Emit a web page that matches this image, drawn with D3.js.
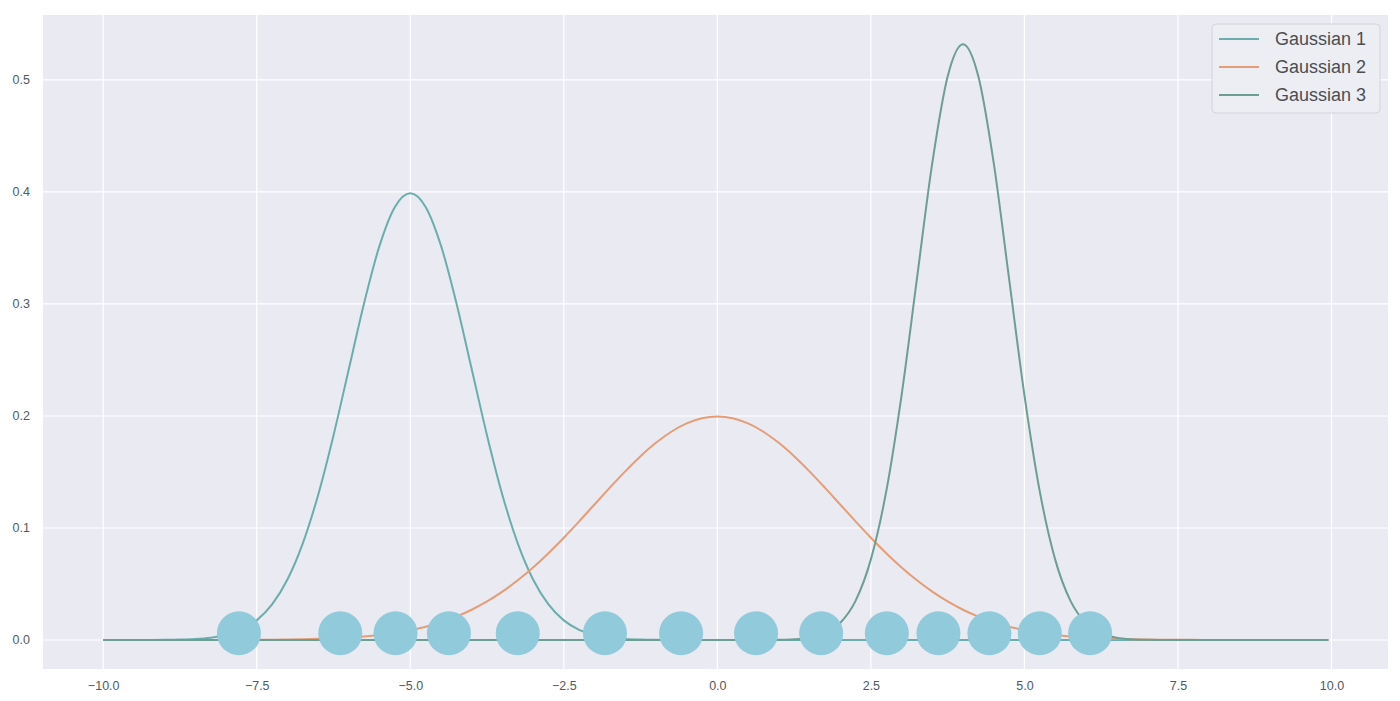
<!DOCTYPE html>
<html>
<head>
<meta charset="utf-8">
<script src="https://cdn.jsdelivr.net/npm/d3@7/dist/d3.min.js"></script>
<style>
  html, body { margin: 0; padding: 0; background: #ffffff; }
  svg { display: block; }
  text { font-family: "Liberation Sans", Arial, Helvetica, sans-serif; }
</style>
</head>
<body>
<svg id="chart" width="1400" height="701"></svg>
<script>
// ---------------- data ----------------
const seriesNames = ["Gaussian 1", "Gaussian 2", "Gaussian 3"];

const xValues = [
  -10, -9.75, -9.5, -9.25, -9, -8.75, -8.5, -8.25, -8, -7.75,
  -7.5, -7.25, -7, -6.75, -6.5, -6.25, -6, -5.75, -5.5, -5.25,
  -5, -4.75, -4.5, -4.25, -4, -3.75, -3.5, -3.25, -3, -2.75,
  -2.5, -2.25, -2, -1.75, -1.5, -1.25, -1, -0.75, -0.5, -0.25,
  0, 0.25, 0.5, 0.75, 1, 1.25, 1.5, 1.75, 2, 2.25,
  2.5, 2.75, 3, 3.25, 3.5, 3.75, 4, 4.25, 4.5, 4.75,
  5, 5.25, 5.5, 5.75, 6, 6.25, 6.5, 6.75, 7, 7.25,
  7.5, 7.75, 8, 8.25, 8.5, 8.75, 9, 9.25, 9.5, 9.75,
  9.95
];

const gaussian1 = [
  0, 0, 0.00002, 0.00005, 0.00013, 0.00035, 0.00087, 0.00203, 0.00443, 0.00909,
  0.01753, 0.03174, 0.05399, 0.08628, 0.12952, 0.18265, 0.24197, 0.30114, 0.35207, 0.38667,
  0.39894, 0.38667, 0.35207, 0.30114, 0.24197, 0.18265, 0.12952, 0.08628, 0.05399, 0.03174,
  0.01753, 0.00909, 0.00443, 0.00203, 0.00087, 0.00035, 0.00013, 0.00005, 0.00002, 0,
  0, 0, 0, 0, 0, 0, 0, 0, 0, 0,
  0, 0, 0, 0, 0, 0, 0, 0, 0, 0,
  0, 0, 0, 0, 0, 0, 0, 0, 0, 0,
  0, 0, 0, 0, 0, 0, 0, 0, 0, 0,
  0
];

const gaussian2 = [
  0, 0, 0, 0, 0, 0.00001, 0.00002, 0.00004, 0.00007, 0.00011,
  0.00018, 0.00028, 0.00044, 0.00067, 0.00101, 0.00151, 0.00222, 0.00320, 0.00455, 0.00636,
  0.00876, 0.01188, 0.01587, 0.02086, 0.02700, 0.03439, 0.04314, 0.05327, 0.06476, 0.07751,
  0.09132, 0.10594, 0.12099, 0.13603, 0.15057, 0.16408, 0.17603, 0.18593, 0.19333, 0.19792,
  0.19947, 0.19792, 0.19333, 0.18593, 0.17603, 0.16408, 0.15057, 0.13603, 0.12099, 0.10594,
  0.09132, 0.07751, 0.06476, 0.05327, 0.04314, 0.03439, 0.02700, 0.02086, 0.01587, 0.01188,
  0.00876, 0.00636, 0.00455, 0.00320, 0.00222, 0.00151, 0.00101, 0.00067, 0.00044, 0.00028,
  0.00018, 0.00011, 0.00007, 0.00004, 0.00002, 0.00001, 0, 0, 0, 0,
  0
];

const gaussian3 = [
  0, 0, 0, 0, 0, 0, 0, 0, 0, 0,
  0, 0, 0, 0, 0, 0, 0, 0, 0, 0,
  0, 0, 0, 0, 0, 0, 0, 0, 0, 0,
  0, 0, 0, 0, 0, 0, 0, 0, 0, 0,
  0, 0, 0.00001, 0.00004, 0.00018, 0.00064, 0.00206, 0.00591, 0.01520, 0.03495,
  0.07199, 0.13264, 0.21868, 0.32263, 0.42593, 0.50318, 0.53192, 0.50318, 0.42593, 0.32263,
  0.21868, 0.13264, 0.07199, 0.03495, 0.01520, 0.00591, 0.00206, 0.00064, 0.00018, 0.00004,
  0.00001, 0, 0, 0, 0, 0, 0, 0, 0, 0,
  0
];

const pointsX = [-7.79, -6.14, -5.24, -4.37, -3.25, -1.83, -0.59, 0.63, 1.69, 2.76, 3.60, 4.43, 5.25, 6.07];
const pointsY = [0.006, 0.006, 0.006, 0.006, 0.006, 0.006, 0.006, 0.006, 0.006, 0.006, 0.006, 0.006, 0.006, 0.006];

const xTicks = [-10, -7.5, -5, -2.5, 0, 2.5, 5, 7.5, 10];
const yTicks = [0, 0.1, 0.2, 0.3, 0.4, 0.5];

// ---------------- layout ----------------
const colors = ["#6aadac", "#e49d77", "#6c9e93"];
const plot = { left: 43, right: 1388, top: 15, bottom: 669 };

const svg = d3.select("#chart");
const x = d3.scaleLinear().domain([-10.98, 10.92]).range([plot.left, plot.right]);
const y = d3.scaleLinear().domain([-0.0259, 0.558]).range([plot.bottom, plot.top]);

// background
svg.append("rect")
  .attr("x", plot.left).attr("y", plot.top)
  .attr("width", plot.right - plot.left).attr("height", plot.bottom - plot.top)
  .attr("fill", "#eaeaf2");

// grid
const grid = svg.append("g");
grid.selectAll("line.gx").data(xTicks).enter().append("line")
  .attr("x1", d => x(d)).attr("x2", d => x(d))
  .attr("y1", plot.top).attr("y2", plot.bottom)
  .attr("stroke", "#ffffff").attr("stroke-width", 1.2);
grid.selectAll("line.gy").data(yTicks).enter().append("line")
  .attr("x1", plot.left).attr("x2", plot.right)
  .attr("y1", d => y(d)).attr("y2", d => y(d))
  .attr("stroke", "#ffffff").attr("stroke-width", 1.2);

// axes (labels only)
const xAxis = d3.axisBottom(x).tickValues(xTicks).tickFormat(d3.format(".1f")).tickSize(0).tickPadding(12);
const yAxis = d3.axisLeft(y).tickValues(yTicks).tickFormat(d3.format(".1f")).tickSize(0).tickPadding(13);

const gx = svg.append("g").attr("transform", `translate(0,${plot.bottom})`).call(xAxis);
const gy = svg.append("g").attr("transform", `translate(${plot.left},0)`).call(yAxis);
[gx, gy].forEach(g => {
  g.select(".domain").remove();
  g.selectAll("text")
    .attr("fill", "#4f5a5c")
    .style("font-size", "12.5px")
    .style("font-family", "'Liberation Sans', Arial, sans-serif");
});

// lines
const seriesData = [gaussian1, gaussian2, gaussian3];
const line = d3.line()
  .x((d, i) => x(xValues[i]))
  .y(d => y(d))
  .curve(d3.curveMonotoneX);

seriesData.forEach((vals, k) => {
  svg.append("path")
    .datum(vals)
    .attr("d", line)
    .attr("fill", "none")
    .attr("stroke", colors[k])
    .attr("stroke-width", 2)
    .attr("stroke-linejoin", "round");
});

// points
svg.append("g").selectAll("circle")
  .data(pointsX)
  .enter().append("circle")
  .attr("cx", d => x(d))
  .attr("cy", (d, i) => y(pointsY[i]))
  .attr("r", 22)
  .attr("fill", "#90cadb");

// legend
const legend = svg.append("g");
legend.append("rect")
  .attr("x", 1212).attr("y", 24)
  .attr("width", 168).attr("height", 89)
  .attr("rx", 4).attr("ry", 4)
  .attr("fill", "#edeef4")
  .attr("stroke", "#d3d3da")
  .attr("stroke-width", 1);

seriesNames.forEach((name, k) => {
  const cy = 39 + k * 28;
  legend.append("line")
    .attr("x1", 1219).attr("x2", 1259)
    .attr("y1", cy).attr("y2", cy)
    .attr("stroke", colors[k]).attr("stroke-width", 2);
  legend.append("text")
    .attr("x", 1275).attr("y", cy)
    .attr("dy", "0.35em")
    .attr("fill", "#4a4e52")
    .style("font-size", "18px")
    .text(name);
});
</script>
</body>
</html>
